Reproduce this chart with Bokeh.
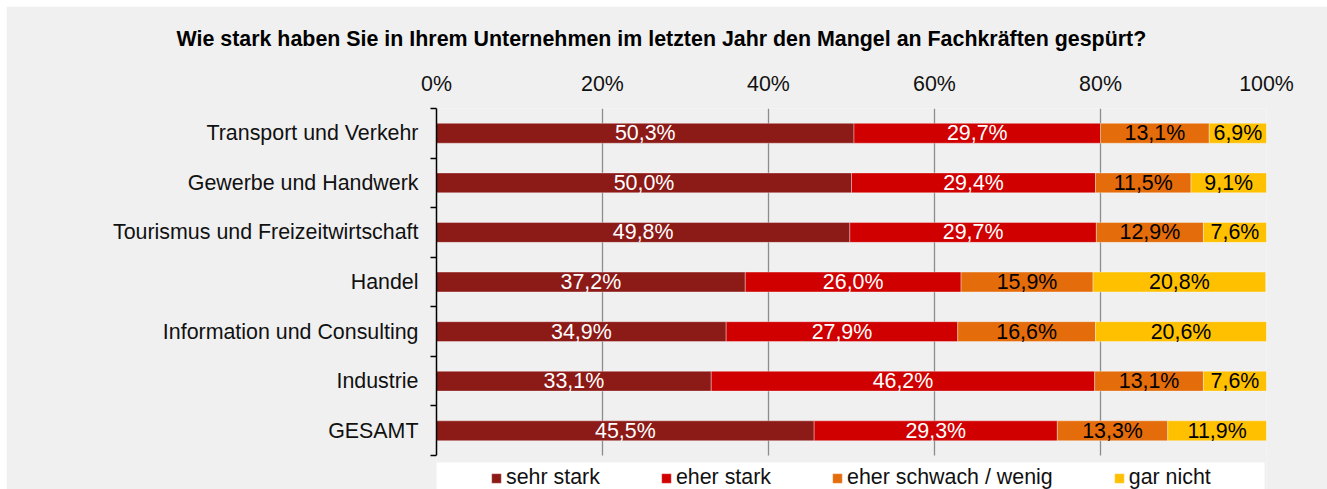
from bokeh.plotting import figure
from bokeh.models import (ColumnDataSource, Range1d, FixedTicker, Legend, LegendItem,
                          BoxAnnotation)
from bokeh.core.properties import value
from bokeh.embed import file_html
from bokeh.resources import INLINE
import numpy as np

title_text = "Wie stark haben Sie in Ihrem Unternehmen im letzten Jahr den Mangel an Fachkräften gespürt?"
categories = ["Transport und Verkehr", "Gewerbe und Handwerk", "Tourismus und Freizeitwirtschaft",
              "Handel", "Information und Consulting", "Industrie", "GESAMT"]
series_names = ["sehr stark", "eher stark", "eher schwach / wenig", "gar nicht"]
sehr_stark = [50.3, 50.0, 49.8, 37.2, 34.9, 33.1, 45.5]
eher_stark = [29.7, 29.4, 29.7, 26.0, 27.9, 46.2, 29.3]
eher_schwach = [13.1, 11.5, 12.9, 15.9, 16.6, 13.1, 13.3]
gar_nicht = [6.9, 9.1, 7.6, 20.8, 20.6, 7.6, 11.9]
x_ticks = [0, 20, 40, 60, 80, 100]
x_tick_labels = ["0%", "20%", "40%", "60%", "80%", "100%"]

colors = ["#8C1A17", "#D00000", "#E46C0A", "#FFC000"]
label_colors = ["#FFFFFF", "#FFFFFF", "#000000", "#000000"]
FONT = "Liberation Sans"
FS = "21.4px"

W, H = 1321, 483
ROW = 49.71
TOP = 101

ypos = [i + 0.5 for i in range(len(categories))]
series = [sehr_stark, eher_stark, eher_schwach, gar_nicht]
keys = ["s0", "s1", "s2", "s3"]

p = figure(width=W, height=H, output_backend="svg", toolbar_location=None, tools="",
           x_range=Range1d(0, 100), y_range=Range1d((H - TOP) / ROW, 0),
           x_axis_location="above",
           min_border_left=430, min_border_right=61, min_border_top=TOP, min_border_bottom=0)
p.margin = (6, 0, 0, 6)
p.background_fill_color = "#f0f0f0"
p.border_fill_color = "#f0f0f0"
p.outline_line_color = None

# title
p.title.text = title_text
p.title.text_font = FONT
p.title.text_font_size = FS
p.title.text_font_style = "bold"
p.title.text_color = "#000000"
p.title.align = "left"
p.title.offset = -260
p.title.standoff = 36

# x axis (top)
xa = p.xaxis[0]
xa.ticker = FixedTicker(ticks=x_ticks)
xa.major_label_overrides = dict(zip(x_ticks, x_tick_labels))
xa.axis_line_color = None
xa.major_tick_line_color = None
xa.minor_tick_line_color = None
xa.major_label_text_font = FONT
xa.major_label_text_font_size = FS
xa.major_label_text_color = "#111111"
xa.major_label_standoff = 7

# y axis with bracket ticks at category boundaries
ya = p.yaxis[0]
ya.ticker = FixedTicker(ticks=ypos, minor_ticks=list(range(len(categories) + 1)))
ya.bounds = (0, len(categories))
ya.major_label_overrides = dict(zip(ypos, categories))
ya.major_tick_in = 0
ya.major_tick_out = 0
ya.major_tick_line_color = None
ya.minor_tick_in = 0
ya.minor_tick_out = 6
ya.minor_tick_line_color = "#000000"
ya.minor_tick_line_width = 1.5
ya.axis_line_color = "#000000"
ya.axis_line_width = 1.5
ya.major_label_standoff = 12
ya.major_label_text_font = FONT
ya.major_label_text_font_size = FS
ya.major_label_text_color = "#111111"

p.xgrid.grid_line_color = "#8c8c8c"
p.xgrid.grid_line_width = 1.3
p.ygrid.grid_line_color = None

data = dict(y=ypos)
for k, s in zip(keys, series):
    data[k] = s
src = ColumnDataSource(data)
renderers = p.hbar_stack(keys, y="y", height=0.4, fill_color=colors,
                         line_color="#ffffff", line_alpha=0.35, line_width=1, source=src)

# data labels
arr = np.array(series, dtype=float)
left = np.vstack([np.zeros(arr.shape[1]), np.cumsum(arr, axis=0)[:-1]])
centers = left + arr / 2
lx, ly, lt, lc = [], [], [], []
for i in range(arr.shape[0]):
    for j in range(arr.shape[1]):
        lx.append(centers[i, j])
        ly.append(ypos[j])
        lt.append(f"{arr[i, j]:.1f}".replace(".", ",") + "%")
        lc.append(label_colors[i])
lsrc = ColumnDataSource(dict(x=lx, y=ly, text=lt, color=lc))
p.text(x="x", y="y", text="text", text_color="color", text_align="center",
       text_baseline="middle", text_font=value(FONT), text_font_size=value(FS), source=lsrc)

# cover grid below the rows, white legend box
p.add_layout(BoxAnnotation(top=len(categories), fill_color="#f0f0f0", fill_alpha=1,
                           line_color=None))
p.add_layout(BoxAnnotation(top=7.14, left=0, right=99.76, fill_color="#ffffff", fill_alpha=1,
                           line_color=None))

legend = Legend(items=[LegendItem(label=n, renderers=[r]) for n, r in zip(series_names, renderers)],
                orientation="horizontal", location=(54, -1), background_fill_alpha=0,
                border_line_color=None, padding=0, margin=0, spacing=60,
                glyph_width=12, glyph_height=12, label_standoff=4,
                label_text_font=FONT, label_text_font_size=FS, label_text_color="#111111")
p.add_layout(legend)

open("out.html", "w").write(file_html(p, INLINE))
